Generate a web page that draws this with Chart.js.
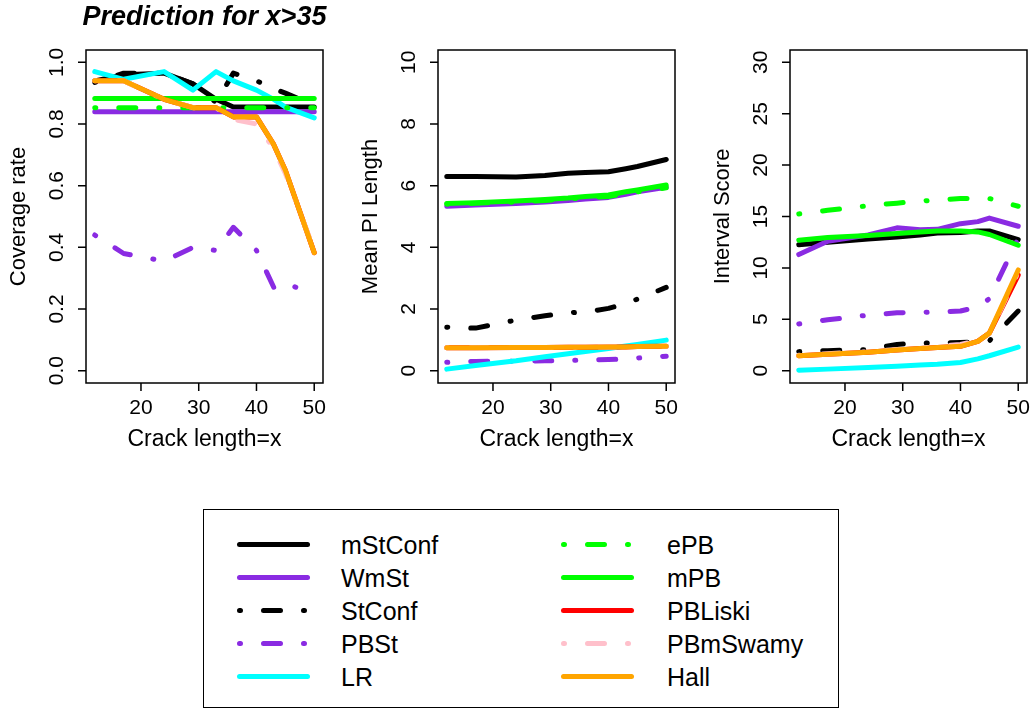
<!DOCTYPE html>
<html>
<head>
<meta charset="utf-8">
<script src="https://cdn.jsdelivr.net/npm/chart.js@4.4.0/dist/chart.umd.min.js"></script>
<style>
  body { margin: 0; background: #fff; width: 1036px; height: 709px; overflow: hidden; position: relative;
         font-family: "Liberation Sans", Arial, sans-serif; }
  canvas { position: absolute; top: 0; }
  #legend { position: absolute; left: 203px; top: 509px; width: 636px; height: 199px;
            border: 1.5px solid #000; box-sizing: border-box; }
  #legend svg { position: absolute; left: 0; top: 0; }
</style>
</head>
<body>
<canvas id="p1" width="340" height="470" style="left:0"></canvas>
<canvas id="p2" width="345" height="470" style="left:340px"></canvas>
<canvas id="p3" width="351" height="470" style="left:685px"></canvas>
<div id="legend"></div>

<script>
// crack length values (x)
const crackX = [12, 17, 24, 29, 33, 36, 40, 43, 45, 50];
const xTicks = [20, 30, 40, 50];

const methods = ['mStConf', 'WmSt', 'StConf', 'PBSt', 'LR', 'ePB', 'mPB', 'PBLiski', 'PBmSwamy', 'Hall'];
const colors = ['#000000', '#8a2be2', '#000000', '#8a2be2', '#00ffff', '#00ff00', '#00ff00', '#ff0000', '#ffc0cb', '#ffa500'];
const dotDash = [false, false, true, true, false, true, false, false, true, false];

// coverage rate, one row per method (same order as methods)
const coverageRate = [
  [0.94, 0.96, 0.965, 0.93, 0.88, 0.855, 0.855, 0.855, 0.855, 0.855],
  [0.84, 0.84, 0.84, 0.84, 0.84, 0.84, 0.84, 0.84, 0.84, 0.84],
  [0.935, 0.965, 0.965, 0.93, 0.87, 0.965, 0.94, 0.915, 0.90, 0.86],
  [0.44, 0.38, 0.355, 0.40, 0.39, 0.465, 0.39, 0.27, 0.285, 0.245],
  [0.97, 0.945, 0.97, 0.91, 0.97, 0.94, 0.91, 0.88, 0.855, 0.82],
  [0.853, 0.853, 0.853, 0.853, 0.853, 0.853, 0.853, 0.853, 0.853, 0.853],
  [0.883, 0.883, 0.883, 0.883, 0.883, 0.883, 0.883, 0.883, 0.883, 0.883],
  [0.94, 0.94, 0.88, 0.853, 0.853, 0.823, 0.823, 0.733, 0.65, 0.383],
  [0.94, 0.94, 0.88, 0.853, 0.853, 0.815, 0.80, 0.72, 0.64, 0.39],
  [0.94, 0.94, 0.88, 0.853, 0.853, 0.823, 0.823, 0.733, 0.65, 0.383]
];

// mean PI length
const meanPILength = [
  [6.3, 6.3, 6.28, 6.33, 6.4, 6.43, 6.45, 6.55, 6.62, 6.85],
  [5.33, 5.37, 5.42, 5.47, 5.52, 5.57, 5.62, 5.72, 5.8, 5.95],
  [1.41, 1.38, 1.64, 1.78, 1.88, 1.9, 2.02, 2.18, 2.32, 2.7],
  [0.27, 0.30, 0.31, 0.32, 0.33, 0.34, 0.36, 0.38, 0.41, 0.47],
  [0.05, 0.17, 0.32, 0.45, 0.55, 0.62, 0.72, 0.8, 0.85, 0.99],
  [5.4, 5.43, 5.47, 5.52, 5.57, 5.61, 5.65, 5.74, 5.8, 5.93],
  [5.42, 5.45, 5.5, 5.55, 5.6, 5.65, 5.7, 5.8, 5.86, 6.02],
  [0.74, 0.74, 0.75, 0.75, 0.76, 0.76, 0.77, 0.77, 0.78, 0.79],
  [0.74, 0.74, 0.75, 0.75, 0.76, 0.76, 0.77, 0.77, 0.78, 0.79],
  [0.74, 0.74, 0.75, 0.75, 0.76, 0.76, 0.77, 0.77, 0.78, 0.79]
];

// interval score
const intervalScore = [
  [12.25, 12.5, 12.8, 13.0, 13.2, 13.4, 13.45, 13.6, 13.6, 12.75],
  [11.3, 12.6, 13.2, 13.9, 13.7, 13.75, 14.3, 14.5, 14.85, 14.05],
  [1.85, 1.95, 2.05, 2.55, 2.7, 2.7, 2.75, 2.8, 2.9, 5.8],
  [4.55, 4.95, 5.4, 5.63, 5.68, 5.7, 5.8, 6.2, 7.0, 12.9],
  [0.05, 0.15, 0.3, 0.42, 0.55, 0.62, 0.8, 1.15, 1.45, 2.3],
  [15.25, 15.6, 16.05, 16.3, 16.5, 16.6, 16.75, 16.75, 16.75, 16.0],
  [12.7, 12.95, 13.15, 13.35, 13.5, 13.6, 13.6, 13.5, 13.25, 12.2],
  [1.45, 1.6, 1.8, 2.0, 2.15, 2.25, 2.37, 2.85, 3.65, 9.3],
  [1.5, 1.65, 1.85, 2.05, 2.2, 2.35, 2.55, 2.9, 3.6, 9.6],
  [1.45, 1.6, 1.8, 2.0, 2.15, 2.25, 2.37, 2.85, 3.65, 9.8]
];

const coverageTicks = [0, 0.2, 0.4, 0.6, 0.8, 1.0];
const lengthTicks = [0, 2, 4, 6, 8, 10];
const scoreTicks = [0, 5, 10, 15, 20, 25, 30];

const LINE_W = 5;
const DASH = [1, 23, 17, 23];
const FONT = '"Liberation Sans", Arial, sans-serif';

// R-style box, ticks and labels
const rAxes = {
  id: 'rAxes',
  afterDraw(chart, args, opts) {
    const { ctx, chartArea: a, scales: { x, y } } = chart;
    ctx.save();
    ctx.strokeStyle = '#000';
    ctx.fillStyle = '#000';
    ctx.lineWidth = 1.5;
    ctx.strokeRect(a.left, a.top, a.right - a.left, a.bottom - a.top);

    ctx.font = '21px ' + FONT;
    ctx.textAlign = 'center';
    ctx.textBaseline = 'middle';
    ctx.beginPath();
    xTicks.forEach(v => {
      const px = x.getPixelForValue(v);
      ctx.moveTo(px, a.bottom);
      ctx.lineTo(px, a.bottom + 8);
    });
    opts.ticks.forEach(v => {
      const py = y.getPixelForValue(v);
      ctx.moveTo(a.left - 8, py);
      ctx.lineTo(a.left, py);
    });
    ctx.stroke();
    xTicks.forEach(v => ctx.fillText(String(v), x.getPixelForValue(v), a.bottom + 25));
    opts.ticks.forEach(v => {
      ctx.save();
      ctx.translate(a.left - 29, y.getPixelForValue(v));
      ctx.rotate(-Math.PI / 2);
      ctx.fillText(opts.fmt(v), 0, 0);
      ctx.restore();
    });

    ctx.font = '23px ' + FONT;
    ctx.fillText('Crack length=x', (a.left + a.right) / 2, a.bottom + 57);
    ctx.font = '22px ' + FONT;
    ctx.save();
    ctx.translate(a.left - 67, (a.top + a.bottom) / 2);
    ctx.rotate(-Math.PI / 2);
    ctx.fillText(opts.title, 0, 0);
    ctx.restore();

    if (opts.main) {
      ctx.font = 'italic bold 27px ' + FONT;
      ctx.fillText(opts.main, (a.left + a.right) / 2, 18);
    }
    ctx.restore();
  }
};

function makePanel(id, rows, ticks, yMax, fmt, title, pad, main) {
  const ext = yMax * 0.04;
  const datasets = rows.map((vals, i) => ({
    label: methods[i],
    data: crackX.map((cx, j) => ({ x: cx, y: vals[j] })),
    borderColor: colors[i],
    borderWidth: LINE_W,
    borderDash: dotDash[i] ? DASH : [],
    borderCapStyle: 'round',
    borderJoinStyle: 'round',
    pointRadius: 0,
    tension: 0,
    fill: false,
    order: methods.length - i
  }));
  new Chart(document.getElementById(id), {
    type: 'line',
    data: { datasets },
    options: {
      responsive: false,
      animation: false,
      devicePixelRatio: 1,
      layout: { padding: pad },
      scales: {
        x: { type: 'linear', min: 12 - 38 * 0.04, max: 50 + 38 * 0.04, display: false },
        y: { type: 'linear', min: -ext, max: yMax + ext, display: false }
      },
      plugins: {
        legend: { display: false },
        tooltip: { enabled: false },
        rAxes: { ticks, fmt, title, main }
      }
    },
    plugins: [rAxes]
  });
}

makePanel('p1', coverageRate, coverageTicks, 1, v => v.toFixed(1), 'Coverage rate',
  { left: 86, right: 17, top: 50, bottom: 87 }, 'Prediction for x>35');
makePanel('p2', meanPILength, lengthTicks, 10, v => String(v), 'Mean PI Length',
  { left: 98, right: 10, top: 50, bottom: 87 });
makePanel('p3', intervalScore, scoreTicks, 30, v => String(v), 'Interval Score',
  { left: 105, right: 9, top: 50, bottom: 87 });

// legend, two columns of five
const legend = document.getElementById('legend');
let svg = '<svg width="636" height="199" xmlns="http://www.w3.org/2000/svg">';
methods.forEach((m, i) => {
  const col = Math.floor(i / 5), row = i % 5;
  const x0 = col === 0 ? 35.5 : 359.5;
  const yy = 34.5 + row * 33;
  svg += `<line x1="${x0}" y1="${yy}" x2="${x0 + 68}" y2="${yy}" stroke="${colors[i]}" stroke-width="${LINE_W}"
    stroke-linecap="round" ${dotDash[i] ? 'stroke-dasharray="' + DASH.join(' ') + '"' : ''}/>`;
  svg += `<text x="${col === 0 ? 137 : 463}" y="${yy}" dominant-baseline="central" font-family='${FONT}' font-size="25">${m}</text>`;
});
svg += '</svg>';
legend.innerHTML = svg;
</script>
</body>
</html>
